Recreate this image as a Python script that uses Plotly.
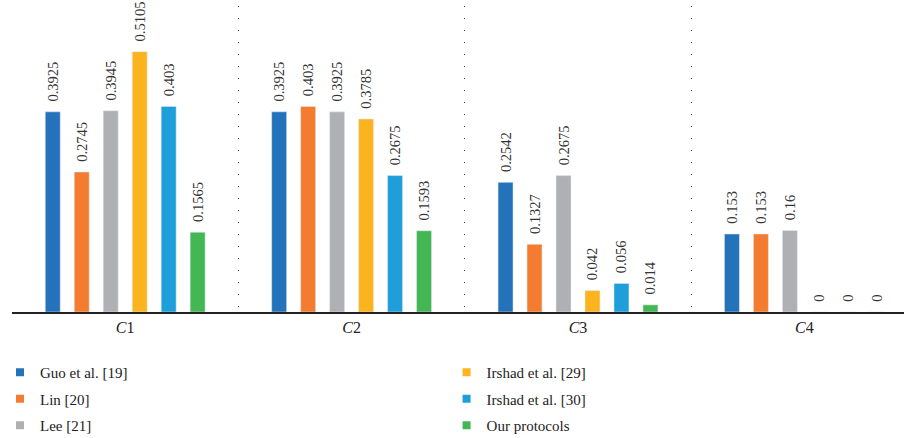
import plotly.graph_objects as go

categories = ["C1", "C2", "C3", "C4"]
category_labels = ["<i>C</i>1", "<i>C</i>2", "<i>C</i>3", "<i>C</i>4"]

series_names = ["Guo et al. [19]", "Lin [20]", "Lee [21]",
                "Irshad et al. [29]", "Irshad et al. [30]", "Our protocols"]
guo = [0.3925, 0.3925, 0.2542, 0.153]
lin = [0.2745, 0.403, 0.1327, 0.153]
lee = [0.3945, 0.3925, 0.2675, 0.16]
irshad29 = [0.5105, 0.3785, 0.042, 0]
irshad30 = [0.403, 0.2675, 0.056, 0]
ours = [0.1565, 0.1593, 0.014, 0]
series_values = [guo, lin, lee, irshad29, irshad30, ours]
colors = ["#2372BA", "#F47C30", "#AFB0B3", "#FBB41E", "#1E9FD9", "#44B654"]

SERIF = "Liberation Serif"
NB = "\u00a0"

fig = go.Figure()
for name, vals, col in zip(series_names, series_values, colors):
    fig.add_trace(go.Bar(
        x=categories, y=vals, name=name, marker_color=col, showlegend=False,
        text=[NB * 2 + f"{v:g}" for v in vals], textposition="outside",
        textangle=-90, cliponaxis=False, constraintext="none",
        textfont=dict(family=SERIF, size=14.5, color="#333333"),
    ))

for i, (name, col) in enumerate(zip(series_names, colors)):
    fig.add_trace(go.Scatter(
        x=[None], y=[None], mode="markers", name=name,
        marker=dict(symbol="square", size=8, color=col),
        legend="legend" if i < 3 else "legend2", legendgroup=name,
    ))

legend_common = dict(
    xref="container", yref="container", xanchor="left", yanchor="top",
    orientation="v", font=dict(family=SERIF, size=15, color="#222222"),
    bgcolor="rgba(0,0,0,0)", tracegroupgap=4, traceorder="grouped",
)

fig.update_layout(
    width=904, height=438,
    margin=dict(l=12, r=0, t=6, b=126, autoexpand=False),
    plot_bgcolor="white", paper_bgcolor="white",
    font=dict(family=SERIF),
    barmode="group", bargap=0.232, bargroupgap=0.483,
    xaxis=dict(
        type="category", categoryorder="array", categoryarray=categories,
        tickvals=categories, ticktext=category_labels,
        range=[-0.5, 3.44], showline=True, linecolor="#222222", linewidth=1.5,
        showgrid=True, tickson="boundaries", gridcolor="#444444", gridwidth=1.2,
        griddash="1px,11px", ticks="",
        tickfont=dict(family=SERIF, size=16, color="#222222"),
    ),
    yaxis=dict(range=[0, 0.6], visible=False, showgrid=False, zeroline=False),
    legend=dict(x=0.0, y=1 - 356 / 438, **legend_common),
    legend2=dict(x=0.494, y=1 - 356 / 438, **legend_common),
)

fig.write_html("out.html")
